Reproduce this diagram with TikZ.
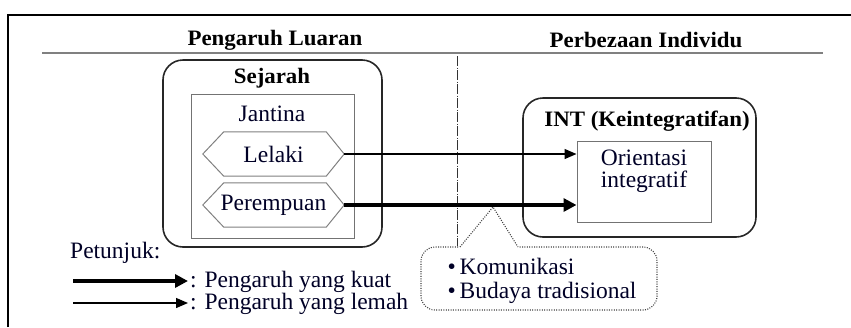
\documentclass[tikz,border=0pt]{standalone}
\usepackage{fontspec}
\setmainfont{Liberation Serif}
\newfontfamily\hdfont[FakeStretch=1.04]{Liberation Serif}
\usetikzlibrary{arrows.meta}
\begin{document}
\begin{tikzpicture}[x=1bp,y=-1bp,
  txt/.style={font=\fontsize{23.5bp}{24bp}\selectfont, inner sep=0pt, text=black!85!blue},
  hd/.style={font=\hdfont\bfseries\fontsize{22bp}{24bp}\selectfont, inner sep=0pt},
  bigbox/.style={draw=black!85, line width=1.6bp, rounded corners=20bp, inner sep=0pt},
  graybox/.style={draw=black!55, line width=1bp, inner sep=0pt},
  hexline/.style={draw=black!50, line width=1bp},
  weakarrow/.style={line width=1.3bp, -{Triangle[length=12bp,width=10bp]}},
  strongarrow/.style={line width=4bp, -{Triangle[length=13bp,width=13bp]}},
  dashdotline/.style={draw=black!80, line width=1bp, dash pattern=on 10bp off 1.5bp on 1bp off 1.5bp},
  callbox/.style={draw=black!75, line width=1.1bp, dash pattern=on 1bp off 1.4bp, rounded corners=14bp, inner sep=0pt},
  calline/.style={draw=black!75, line width=1.1bp, dash pattern=on 1bp off 1.4bp}
]
\useasboundingbox (0,0) rectangle (851,327);
% frame
\draw[line width=2.6bp] (8,327) -- (8,15) -- (851,15);
\draw[draw=black!50, line width=1.5bp] (42,53) -- (823,53);
\node[hd] (h1) at (275,40) {Pengaruh Luaran};
\node[hd] (h2) at (646,40) {Perbezaan Individu};
% dash-dot divider
\coordinate (dtop) at (457,56);
\coordinate (dbot) at (457,246);
\draw[dashdotline] (dtop) -- (dbot);
% Sejarah
\node[bigbox, minimum width=219bp, minimum height=187bp] (sej) at (272.5,153.5) {};
\node[hd] (sejt) at (272,78) {Sejarah};
\node[graybox, minimum width=163bp, minimum height=144bp] (jan) at (272.5,166) {};
\node[txt] (jant) at (272,114) {Jantina};
\node[txt, minimum width=141bp, minimum height=44bp] (lel) at (273.5,154) {Lelaki};
\node[txt, minimum width=141bp, minimum height=44bp] (per) at (273.5,205) {Perempuan};
\draw[hexline] (lel.west) -- ([xshift=21bp]lel.north west) -- ([xshift=-18bp]lel.north east) -- (lel.east) -- ([xshift=-18bp]lel.south east) -- ([xshift=21bp]lel.south west) -- cycle;
\draw[hexline] (per.west) -- ([xshift=21bp]per.north west) -- ([xshift=-18bp]per.north east) -- (per.east) -- ([xshift=-18bp]per.south east) -- ([xshift=21bp]per.south west) -- cycle;
% INT
\node[bigbox, minimum width=233bp, minimum height=139bp] (int) at (639.5,167.5) {};
\node[hd] (intt) at (647,121) {INT (Keintegratifan)};
\node[graybox, minimum width=134bp, minimum height=81bp] (ori) at (644,181.5) {};
\node[txt, align=center, font=\fontsize{23.5bp}{22bp}\selectfont] (orit) at (644,171) {Orientasi\\integratif};
% arrows
\draw[weakarrow] (lel.east) -- (lel.east -| ori.west);
\draw[strongarrow] (per.east) -- (per.east -| ori.west);
% callout
\node[callbox, minimum width=236bp, minimum height=63bp] (cal) at (539,278.5) {};
\fill[white] (459,245) rectangle (519,249.5);
\coordinate (pl) at (460,247);
\coordinate (pt) at (493,207);
\coordinate (pr) at (518,247);
\draw[calline] (pl) -- (pt) -- (pr);
\node[txt, align=left, font=\fontsize{23.5bp}{24bp}\selectfont] (calt) at (542,281) {•\,Komunikasi\\•\,Budaya tradisional};
% legend
\node[txt, anchor=west] (pet) at (70,253) {Petunjuk:};
\node[txt, anchor=west] (kuat) at (190,282) {: Pengaruh yang kuat};
\node[txt, anchor=west] (lemah) at (190,304) {: Pengaruh yang lemah};
\coordinate (ka) at (73,281);
\coordinate (la) at (73,303);
\draw[strongarrow] (ka) -- ([xshift=-2bp]kuat.west |- ka);
\draw[weakarrow] (la) -- ([xshift=-2bp]lemah.west |- la);
\end{tikzpicture}
\end{document}
